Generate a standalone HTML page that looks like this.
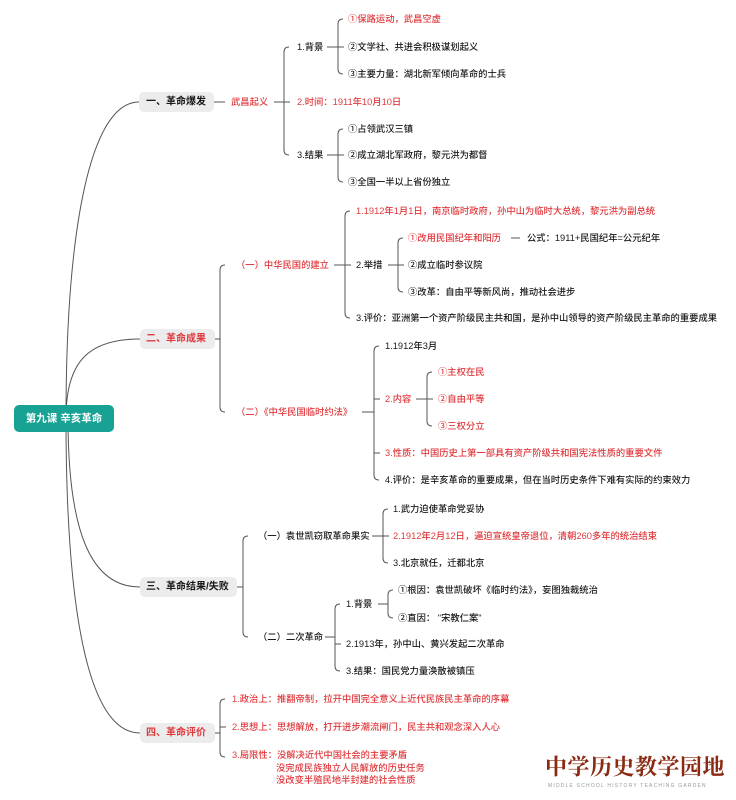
<!DOCTYPE html>
<html><head><meta charset="utf-8"><style>
html,body{margin:0;padding:0;background:#fff;}
svg{display:block;}
text{font-family:"Liberation Sans","Noto Sans CJK SC",sans-serif;font-size:9.3px;fill:#1a1a1a;dominant-baseline:central;font-weight:500;}
.r{fill:#e03a3e;}
.h{font-size:10px;font-weight:bold;}
path{fill:none;stroke:#555;stroke-width:1;}
</style></head><body>
<svg width="736" height="800" viewBox="0 0 736 800" xmlns="http://www.w3.org/2000/svg">
<path d="M66,418 C66,230 90,102 139,102" stroke="#444"/>
<path d="M66,418 C66,360 90,339 140,339" stroke="#444"/>
<path d="M68,418 C68,530 90,587 140,587" stroke="#444"/>
<path d="M66,418 C66,620 90,733 140,733" stroke="#444"/>
<rect x="14" y="405" width="100" height="27" rx="5" fill="#17a293"/>
<text x="64" y="418.5" text-anchor="middle" style="fill:#fff;font-size:10.5px;font-weight:bold">第九课  辛亥革命</text>

<rect x="139" y="92" width="75" height="20" rx="5" fill="#ececec"/>
<text x="146" y="102" class="h">一、革命爆发</text>
<path d="M214,102 H225"/>
<text x="231" y="102" class="r">武昌起义</text>
<path d="M274,102 H284"/>
<path d="M289,47 Q284,47 284,52 L284,150 Q284,155 289,155 M284,102 H290"/>
<text x="297" y="47">1.背景</text>
<text x="297" y="102" class="r">2.时间：1911年10月10日</text>
<text x="297" y="155">3.结果</text>
<path d="M327,47 H338 M343,19 Q338,19 338,24 L338,69 Q338,74 343,74 M338,47 H344"/>
<text x="348" y="19" class="r">①保路运动，武昌空虚</text>
<text x="348" y="47">②文学社、共进会积极谋划起义</text>
<text x="348" y="74">③主要力量：湖北新军倾向革命的士兵</text>
<path d="M327,155 H338 M343,129 Q338,129 338,134 L338,177 Q338,182 343,182 M338,155 H344"/>
<text x="348" y="129">①占领武汉三镇</text>
<text x="348" y="155">②成立湖北军政府，黎元洪为都督</text>
<text x="348" y="182">③全国一半以上省份独立</text>

<rect x="140" y="329" width="75" height="20" rx="5" fill="#ececec"/>
<text x="146" y="339" class="h r">二、革命成果</text>
<path d="M215,339 H220 M225,265 Q220,265 220,270 L220,407 Q220,412 225,412"/>
<text x="236" y="265" class="r">（一）中华民国的建立</text>
<path d="M334,265 H345 M350,211 Q345,211 345,216 L345,313 Q345,318 350,318 M345,265 H351"/>
<text x="356" y="211" class="r">1.1912年1月1日，南京临时政府，孙中山为临时大总统，黎元洪为副总统</text>
<text x="356" y="265">2.举措</text>
<text x="356" y="318">3.评价：亚洲第一个资产阶级民主共和国，是孙中山领导的资产阶级民主革命的重要成果</text>
<path d="M388,265 H398 M403,238 Q398,238 398,243 L398,287 Q398,292 403,292 M398,265 H404"/>
<text x="408" y="238" class="r">①改用民国纪年和阳历</text>
<path d="M511,238 H520"/>
<text x="527" y="238">公式：1911+民国纪年=公元纪年</text>
<text x="408" y="265">②成立临时参议院</text>
<text x="408" y="292">③改革：自由平等新风尚，推动社会进步</text>
<text x="236" y="412" class="r">（二）《中华民国临时约法》</text>
<path d="M362,412 H374 M379,346 Q374,346 374,351 L374,475 Q374,480 379,480 M374,399 H380 M374,453 H380"/>
<text x="385" y="346">1.1912年3月</text>
<text x="385" y="399" class="r">2.内容</text>
<text x="385" y="453" class="r">3.性质：中国历史上第一部具有资产阶级共和国宪法性质的重要文件</text>
<text x="385" y="480">4.评价：是辛亥革命的重要成果，但在当时历史条件下难有实际的约束效力</text>
<path d="M416,399 H427 M432,372 Q427,372 427,377 L427,421 Q427,426 432,426 M427,399 H433"/>
<text x="438" y="372" class="r">①主权在民</text>
<text x="438" y="399" class="r">②自由平等</text>
<text x="438" y="426" class="r">③三权分立</text>

<rect x="140" y="577" width="97" height="20" rx="5" fill="#ececec"/>
<text x="146" y="587" class="h">三、革命结果/失败</text>
<path d="M237,587 H243 M248,536 Q243,536 243,541 L243,632 Q243,637 248,637"/>
<text x="258" y="536">（一）袁世凯窃取革命果实</text>
<path d="M372,536 H383 M388,509 Q383,509 383,514 L383,558 Q383,563 388,563 M383,536 H389"/>
<text x="393" y="509">1.武力迫使革命党妥协</text>
<text x="393" y="536" class="r">2.1912年2月12日，逼迫宣统皇帝退位，清朝260多年的统治结束</text>
<text x="393" y="563">3.北京就任，迁都北京</text>
<text x="258" y="637">（二）二次革命</text>
<path d="M325,637 H335 M340,604 Q335,604 335,609 L335,666 Q335,671 340,671 M335,644 H341"/>
<text x="346" y="604">1.背景</text>
<text x="346" y="644">2.1913年，孙中山、黄兴发起二次革命</text>
<text x="346" y="671">3.结果：国民党力量涣散被镇压</text>
<path d="M378,604 H388 M393,590 Q388,590 388,595 L388,613 Q388,618 393,618"/>
<text x="398" y="590">①根因：袁世凯破坏《临时约法》，妄图独裁统治</text>
<text x="398" y="618">②直因：  "宋教仁案"</text>

<rect x="140" y="723" width="75" height="20" rx="5" fill="#ececec"/>
<text x="146" y="733" class="h r">四、革命评价</text>
<path d="M215,733 H220 M225,699 Q220,699 220,704 L220,752 Q220,757 225,757 M220,727 H226"/>
<text x="232" y="699" class="r">1.政治上：推翻帝制，拉开中国完全意义上近代民族民主革命的序幕</text>
<text x="232" y="727" class="r">2.思想上：思想解放，打开进步潮流闸门，民主共和观念深入人心</text>
<text x="232" y="755" class="r">3.局限性：没解决近代中国社会的主要矛盾</text>
<text x="276" y="768" class="r">没完成民族独立人民解放的历史任务</text>
<text x="276" y="780" class="r">没改变半殖民地半封建的社会性质</text>

<text x="545" y="766" style="font-family:'Noto Serif CJK SC',serif;font-size:22px;font-weight:bold;fill:#8a2a12;letter-spacing:0.5px">中学历史教学园地</text>
<text x="548" y="786" style="font-size:5px;fill:#999;letter-spacing:1.2px;font-weight:normal">MIDDLE SCHOOL HISTORY TEACHING GARDEN</text>
</svg>
</body></html>
